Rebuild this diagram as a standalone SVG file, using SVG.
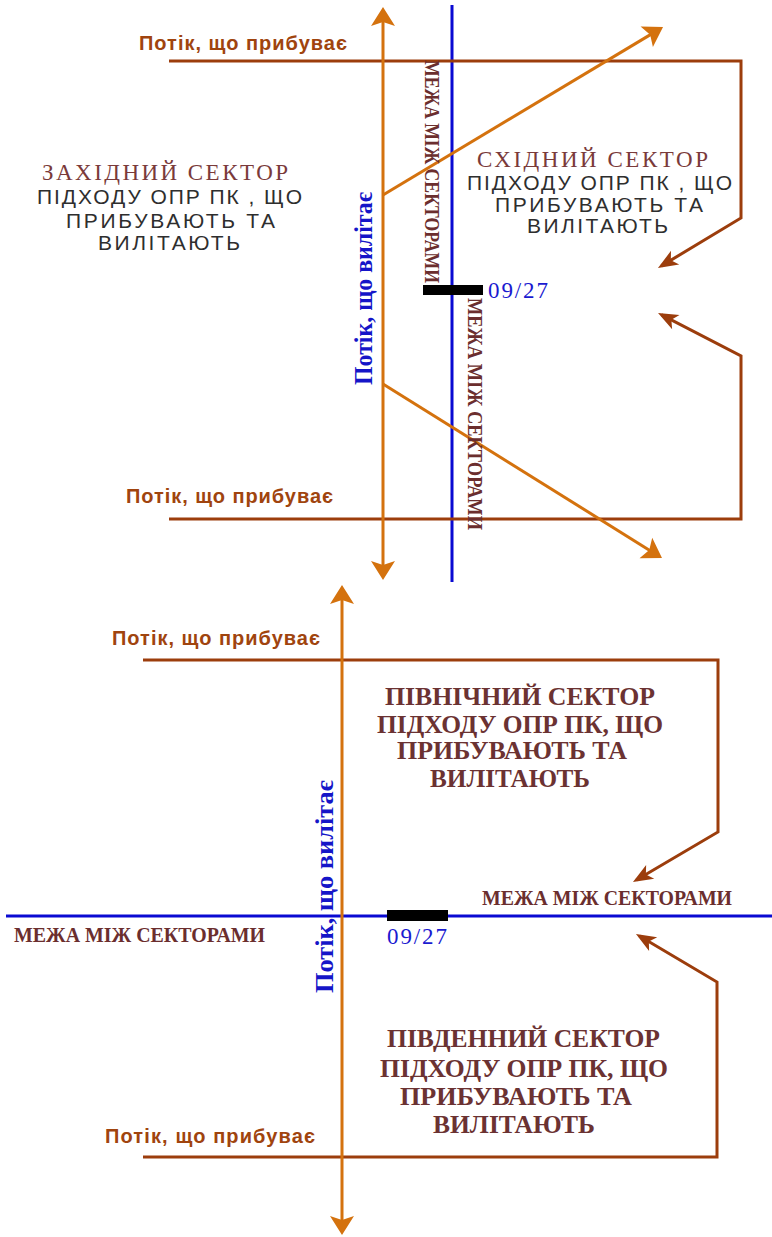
<svg xmlns="http://www.w3.org/2000/svg" width="772" height="1237" viewBox="0 0 772 1237">
  <style>
    .arr { fill: none; stroke: #9c3d0c; stroke-width: 3; stroke-linejoin: miter; }
    .dep { fill: none; stroke: #d4720e; stroke-width: 3; }
    .axis { fill: none; stroke: #0a0ad2; stroke-width: 3; }
    .rwy { fill: #000; }
    .flow { font-family: "Liberation Sans", Arial, sans-serif; font-weight: bold; font-size: 20px; fill: #a0440e; }
    .body { font-family: "Liberation Sans", Arial, sans-serif; font-size: 21px; fill: #2e2e2e; }
    .ttl { font-family: "Liberation Serif", "Times New Roman", serif; font-size: 23px; fill: #7a3a3a; }
    .sect { font-family: "Liberation Serif", "Times New Roman", serif; font-weight: bold; font-size: 25px; fill: #6b3232; }
    .bnd { font-family: "Liberation Serif", "Times New Roman", serif; font-weight: bold; font-size: 20px; fill: #6b2e2e; }
    .num { font-family: "Liberation Serif", "Times New Roman", serif; font-size: 23px; fill: #1a1ad0; }
    .depl { font-family: "Liberation Serif", "Times New Roman", serif; font-weight: bold; font-size: 25px; fill: #1515c8; }
  </style>
  <defs>
    <marker id="headDep" viewBox="-22 -13 24 26" refX="-4" refY="0" markerWidth="24" markerHeight="26" markerUnits="userSpaceOnUse" orient="auto-start-reverse">
      <path d="M0,0 L-19,-12 L-15,0 L-19,12 Z" fill="#d4720e"/>
    </marker>
    <marker id="headArr" viewBox="-22 -10 24 20" refX="-4" refY="0" markerWidth="24" markerHeight="20" markerUnits="userSpaceOnUse" orient="auto">
      <path d="M0,0 L-20,-8 L-15,0 L-20,8 Z" fill="#9c3d0c"/>
    </marker>
  </defs>

  <rect width="772" height="1237" fill="#fff"/>

  <!-- connectors: arrival flows, departure flows, sector boundaries -->
  <g id="connectors">
    <!-- upper scheme (west / east) -->
    <line class="axis" x1="452" y1="5" x2="452" y2="582"/>
    <polyline class="arr" points="169,61 741,61 741,218 661.4,265.9" marker-end="url(#headArr)"/>
    <polyline class="arr" points="169,519 741,519 741,356 661.6,314.8" marker-end="url(#headArr)"/>
    <line class="dep" x1="383" y1="11" x2="383" y2="576" marker-start="url(#headDep)" marker-end="url(#headDep)"/>
    <line class="dep" x1="383" y1="195" x2="659.6" y2="29.1" marker-end="url(#headDep)"/>
    <line class="dep" x1="383" y1="384" x2="658.6" y2="555.9" marker-end="url(#headDep)"/>

    <!-- lower scheme (north / south) -->
    <line class="axis" x1="6" y1="916" x2="772" y2="916"/>
    <polyline class="arr" points="143,660 718,660 718,832 636.4,880" marker-end="url(#headArr)"/>
    <polyline class="arr" points="143,1157 717,1157 717,982 639.4,936" marker-end="url(#headArr)"/>
    <line class="dep" x1="342" y1="589" x2="342" y2="1231" marker-start="url(#headDep)" marker-end="url(#headDep)"/>
  </g>

  <!-- runways -->
  <g id="runway-upper">
    <rect class="rwy" x="423" y="285" width="60" height="10"/>
    <text class="num" x="488" y="298" textLength="60" lengthAdjust="spacing">09/27</text>
  </g>
  <g id="runway-lower">
    <rect class="rwy" x="387" y="910" width="61" height="11"/>
    <text class="num" x="387" y="944" textLength="60" lengthAdjust="spacing">09/27</text>
  </g>

  <!-- arrival flow labels -->
  <g id="flow-in-1"><text class="flow" x="139" y="50" textLength="208" lengthAdjust="spacing">Потік, що прибуває</text></g>
  <g id="flow-in-2"><text class="flow" x="126" y="503" textLength="207" lengthAdjust="spacing">Потік, що прибуває</text></g>
  <g id="flow-in-3"><text class="flow" x="112" y="645" textLength="208" lengthAdjust="spacing">Потік, що прибуває</text></g>
  <g id="flow-in-4"><text class="flow" x="105" y="1143" textLength="210" lengthAdjust="spacing">Потік, що прибуває</text></g>

  <!-- departure flow labels -->
  <g id="flow-out-1"><text class="depl" transform="translate(372,385) rotate(-90)" textLength="193" lengthAdjust="spacingAndGlyphs">Потік, що вилітає</text></g>
  <g id="flow-out-2"><text class="depl" transform="translate(333,993) rotate(-90)" textLength="213" lengthAdjust="spacingAndGlyphs">Потік, що вилітає</text></g>

  <!-- sector boundary labels -->
  <g id="boundary-1"><text class="bnd" transform="translate(425,60) rotate(90)" textLength="223" lengthAdjust="spacingAndGlyphs">МЕЖА МІЖ СЕКТОРАМИ</text></g>
  <g id="boundary-2"><text class="bnd" transform="translate(468,298) rotate(90)" textLength="232" lengthAdjust="spacingAndGlyphs">МЕЖА МІЖ СЕКТОРАМИ</text></g>
  <g id="boundary-3"><text class="bnd" x="14" y="942" textLength="251" lengthAdjust="spacingAndGlyphs">МЕЖА МІЖ СЕКТОРАМИ</text></g>
  <g id="boundary-4"><text class="bnd" x="482" y="905" textLength="250" lengthAdjust="spacingAndGlyphs">МЕЖА МІЖ СЕКТОРАМИ</text></g>

  <!-- western sector -->
  <g id="sector-west">
    <text class="ttl" x="42" y="180" textLength="246" lengthAdjust="spacing">ЗАХІДНИЙ СЕКТОР</text>
    <text class="body" x="37" y="204" textLength="265" lengthAdjust="spacing">ПІДХОДУ ОПР ПК , ЩО</text>
    <text class="body" x="66" y="228" textLength="209" lengthAdjust="spacing">ПРИБУВАЮТЬ ТА</text>
    <text class="body" x="98" y="250" textLength="142" lengthAdjust="spacing">ВИЛІТАЮТЬ</text>
  </g>

  <!-- eastern sector -->
  <g id="sector-east">
    <text class="ttl" x="477" y="167" textLength="231" lengthAdjust="spacing">СХІДНИЙ СЕКТОР</text>
    <text class="body" x="467" y="190" textLength="265" lengthAdjust="spacing">ПІДХОДУ ОПР ПК , ЩО</text>
    <text class="body" x="495" y="212" textLength="208" lengthAdjust="spacing">ПРИБУВАЮТЬ ТА</text>
    <text class="body" x="527" y="233" textLength="141" lengthAdjust="spacing">ВИЛІТАЮТЬ</text>
  </g>

  <!-- northern sector -->
  <g id="sector-north">
    <text class="sect" x="385" y="705" textLength="270" lengthAdjust="spacingAndGlyphs">ПІВНІЧНИЙ СЕКТОР</text>
    <text class="sect" x="377" y="733" textLength="286" lengthAdjust="spacingAndGlyphs">ПІДХОДУ ОПР ПК, ЩО</text>
    <text class="sect" x="397" y="759" textLength="230" lengthAdjust="spacingAndGlyphs">ПРИБУВАЮТЬ ТА</text>
    <text class="sect" x="430" y="787" textLength="160" lengthAdjust="spacingAndGlyphs">ВИЛІТАЮТЬ</text>
  </g>

  <!-- southern sector -->
  <g id="sector-south">
    <text class="sect" x="387" y="1047" textLength="273" lengthAdjust="spacingAndGlyphs">ПІВДЕННИЙ СЕКТОР</text>
    <text class="sect" x="380" y="1077" textLength="288" lengthAdjust="spacingAndGlyphs">ПІДХОДУ ОПР ПК, ЩО</text>
    <text class="sect" x="400" y="1105" textLength="232" lengthAdjust="spacingAndGlyphs">ПРИБУВАЮТЬ ТА</text>
    <text class="sect" x="433" y="1133" textLength="162" lengthAdjust="spacingAndGlyphs">ВИЛІТАЮТЬ</text>
  </g>
</svg>
